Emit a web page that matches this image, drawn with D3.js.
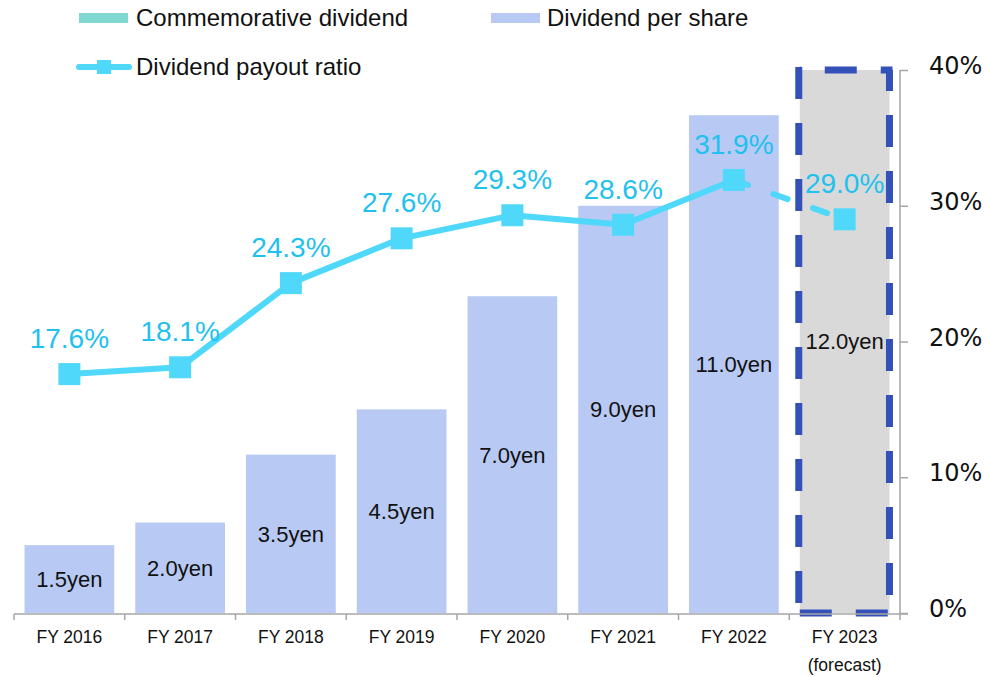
<!DOCTYPE html>
<html>
<head>
<meta charset="utf-8">
<script src="https://cdn.jsdelivr.net/npm/d3@7"></script>
<style>
  body { margin: 0; background: #fff; }
  text { font-family: "Liberation Sans", Arial, sans-serif; }
</style>
</head>
<body>
<div id="chart"></div>
<script>

// data
var categories = ["FY 2016", "FY 2017", "FY 2018", "FY 2019", "FY 2020", "FY 2021", "FY 2022", "FY 2023"];
var subLabels = ["", "", "", "", "", "", "", "(forecast)"];
var dividend = [1.5, 2.0, 3.5, 4.5, 7.0, 9.0, 11.0, 12.0];      // yen per share
var payoutRatio = [17.6, 18.1, 24.3, 27.6, 29.3, 28.6, 31.9, 29.0]; // %
var isForecast = [false, false, false, false, false, false, false, true];
var rightTicks = [0, 10, 20, 30, 40];
var legendNames = ["Commemorative dividend", "Dividend per share", "Dividend payout ratio"];

var W = 989, H = 677;
var axisColor = "#a6a6a6";
var barColor = "#b8c9f3";
var lineColor = "#50d8fa";
var labelColor = "#1fc1ef";

var svg = d3.select("#chart").append("svg")
  .attr("width", W)
  .attr("height", H);

var x = d3.scaleBand().domain(categories).range([14, 900]).padding(0);
var bw = x.bandwidth() * 0.81;
var cx = function(d) { return x(d) + x.bandwidth() / 2; };

var yLeft = d3.scaleLinear().domain([0, 12]).range([613, 70]);
var yRight = d3.scaleLinear().domain([0, 40]).range([613, 70]);

var rows = categories.map(function(c, i) {
  return { cat: c, sub: subLabels[i], div: dividend[i], ratio: payoutRatio[i], fc: isForecast[i] };
});

// bars
svg.selectAll(".bar")
  .data(rows)
  .enter()
  .append("rect")
  .attr("class", "bar")
  .attr("x", function(d) { return cx(d.cat) - bw / 2; })
  .attr("y", function(d) { return yLeft(d.div); })
  .attr("width", bw)
  .attr("height", function(d) { return yLeft(0) - yLeft(d.div); })
  .style("fill", function(d) { return d.fc ? "#d9d9d9" : barColor; });

// dashed frame round the forecast bar, one edge at a time
rows.filter(function(d) { return d.fc; }).forEach(function(d) {
  var x0 = cx(d.cat) - bw / 2, x1 = cx(d.cat) + bw / 2;
  var y0 = yLeft(d.div), y1 = yLeft(0);
  var edges = [
    { a: [x0 - 1, y0 - 3], b: [x0 - 1, y1], off: 0 },
    { a: [x1, y0], b: [x1, y1], off: 11 },
    { a: [x0, y0], b: [x1 + 3, y0], off: 31 },
    { a: [x0, y1], b: [x1, y1], off: 0 }
  ];
  svg.selectAll(".frame")
    .data(edges)
    .enter()
    .append("line")
    .attr("x1", function(e) { return e.a[0]; })
    .attr("y1", function(e) { return e.a[1]; })
    .attr("x2", function(e) { return e.b[0]; })
    .attr("y2", function(e) { return e.b[1]; })
    .style("stroke", "#3450b9")
    .style("stroke-width", 7)
    .style("stroke-dasharray", "32,24")
    .style("stroke-dashoffset", function(e) { return e.off; });
});

// bar value labels
svg.selectAll(".barLabel")
  .data(rows)
  .enter()
  .append("text")
  .attr("x", function(d) { return cx(d.cat); })
  .attr("y", function(d) { return (yLeft(d.div) + yLeft(0)) / 2; })
  .attr("dy", "0.36em")
  .attr("text-anchor", "middle")
  .style("font-size", "22px")
  .style("fill", "#111")
  .text(function(d) { return d.div.toFixed(1) + "yen"; });

// x axis
var xAxis = svg.append("g").attr("transform", "translate(0,614)");
xAxis.append("line")
  .attr("x1", 14).attr("x2", 908)
  .style("stroke", axisColor).style("stroke-width", 1.5);
xAxis.selectAll(".tk")
  .data(categories)
  .enter()
  .append("line")
  .attr("x1", function(d) { return x(d); })
  .attr("x2", function(d) { return x(d); })
  .attr("y1", 0).attr("y2", 6)
  .style("stroke", axisColor).style("stroke-width", 1.5);
xAxis.selectAll(".lab")
  .data(rows)
  .enter()
  .append("text")
  .attr("x", function(d) { return cx(d.cat); })
  .attr("y", 29)
  .attr("text-anchor", "middle")
  .style("font-size", "17.5px")
  .style("fill", "#111")
  .text(function(d) { return d.cat; });
xAxis.selectAll(".sub")
  .data(rows.filter(function(d) { return d.sub; }))
  .enter()
  .append("text")
  .attr("x", function(d) { return cx(d.cat); })
  .attr("y", 57)
  .attr("text-anchor", "middle")
  .style("font-size", "17.5px")
  .style("fill", "#111")
  .text(function(d) { return d.sub; });

// right axis
var rAxis = svg.append("g")
  .attr("transform", "translate(900,0)")
  .call(d3.axisRight(yRight).tickValues(rightTicks).tickSize(8).tickPadding(21)
    .tickFormat(function(d) { return d + "%"; }));
rAxis.select(".domain").remove();
rAxis.append("line")
  .attr("x1", 0).attr("x2", 0)
  .attr("y1", yRight(40)).attr("y2", 620)
  .style("stroke", axisColor).style("stroke-width", 1.5);
rAxis.selectAll(".tick line").style("stroke", axisColor).style("stroke-width", 1.5);
rAxis.selectAll(".tick text")
  .attr("dy", "0.15em")
  .style("font-family", "'DejaVu Sans', Verdana, sans-serif")
  .style("font-size", "24px")
  .style("fill", "#111");

// payout ratio line
var line = d3.line()
  .x(function(d) { return cx(d.cat); })
  .y(function(d) { return yRight(d.ratio); });

var actual = rows.filter(function(d) { return !d.fc; });
var lastActual = actual[actual.length - 1];
var future = [lastActual].concat(rows.filter(function(d) { return d.fc; }));

svg.append("path")
  .datum(actual)
  .attr("d", line)
  .style("fill", "none")
  .style("stroke", lineColor)
  .style("stroke-width", 6)
  .style("stroke-linejoin", "round");

svg.append("path")
  .datum(future)
  .attr("d", line)
  .style("fill", "none")
  .style("stroke", lineColor)
  .style("stroke-width", 6)
  .style("stroke-linecap", "round")
  .style("stroke-dasharray", "15,27");

svg.selectAll(".marker")
  .data(rows)
  .enter()
  .append("rect")
  .attr("x", function(d) { return cx(d.cat) - 11; })
  .attr("y", function(d) { return yRight(d.ratio) - 11; })
  .attr("width", 22)
  .attr("height", 22)
  .style("fill", lineColor);

svg.selectAll(".ratioLabel")
  .data(rows)
  .enter()
  .append("text")
  .attr("x", function(d) { return cx(d.cat); })
  .attr("y", function(d) { return yRight(d.ratio) - 26; })
  .attr("text-anchor", "middle")
  .style("font-size", "28px")
  .style("fill", labelColor)
  .text(function(d) { return d.ratio.toFixed(1) + "%"; });

// legend
var lg = svg.append("g");
lg.append("rect").attr("x", 79).attr("y", 13).attr("width", 49).attr("height", 10).style("fill", "#80d8d0");
lg.append("text").attr("x", 136).attr("y", 26).style("font-size", "24px").style("fill", "#111").text(legendNames[0]);
lg.append("rect").attr("x", 491).attr("y", 13).attr("width", 49).attr("height", 10).style("fill", barColor);
lg.append("text").attr("x", 547).attr("y", 26).style("font-size", "24px").style("fill", "#111").text(legendNames[1]);
lg.append("line").attr("x1", 79).attr("x2", 129).attr("y1", 67).attr("y2", 67)
  .style("stroke", lineColor).style("stroke-width", 6).style("stroke-linecap", "round");
lg.append("rect").attr("x", 97).attr("y", 60).attr("width", 14).attr("height", 14).style("fill", lineColor);
lg.append("text").attr("x", 136).attr("y", 75).style("font-size", "24px").style("fill", "#111").text(legendNames[2]);

</script>
</body>
</html>
